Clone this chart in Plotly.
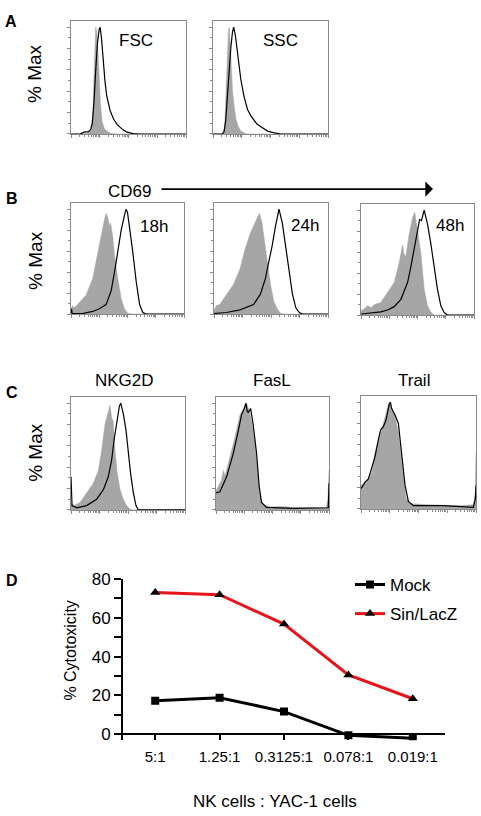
import math
import plotly.graph_objects as go

W, H = 481, 816
FONT = "Liberation Sans, Arial, sans-serif"
GRAY_FILL = "#a6a6a6"
FRAME = "#8a8a8a"

# ---------------- Histogram data (x = % of channel range, y = % Max) ----------------
FSC_ISO_X = [0, 10, 15, 17, 18, 19, 20, 21, 21.5, 22.5, 23.5, 24.5, 25.5, 27, 29, 32, 35, 40, 100]
FSC_ISO_Y = [0, 0, 1, 3, 6, 20, 55, 92, 100, 96, 80, 55, 30, 12, 5, 2, 0.5, 0, 0]
FSC_SAMPLE_X = [0, 8, 10, 12, 15, 17, 18.5, 20, 21.5, 23, 24.5, 25.3, 26.5, 28, 29.5, 31, 34, 37, 40, 44, 48, 54, 60, 100]
FSC_SAMPLE_Y = [0, 0, 1, 2, 2, 4, 10, 30, 60, 85, 98, 100, 90, 68, 50, 36, 22, 14, 9, 5, 2, 0.3, 0, 0]

SSC_ISO_X = [0, 8, 9.5, 10.5, 11.5, 12.5, 13.5, 14.2, 15, 16, 17, 18.5, 20, 22, 24, 27, 30, 100]
SSC_ISO_Y = [0, 0, 3, 15, 45, 80, 98, 100, 85, 60, 40, 25, 14, 7, 3, 1, 0, 0]
SSC_SAMPLE_X = [0, 8, 9.6, 11, 12.5, 14, 15.5, 17, 18, 19.5, 21.3, 22.8, 24.2, 27, 30, 33, 35.9, 38, 41.7, 47.5, 53.4, 59, 100]
SSC_SAMPLE_Y = [0, 0, 2, 12, 35, 60, 81, 96, 100, 92, 75, 62, 51, 35, 23, 17, 12.7, 9.5, 6.7, 2.7, 1, 0, 0]

H18_ISO_X = [0, 1, 3, 7.4, 13.3, 19.2, 23.7, 26.6, 29.6, 31, 32.5, 34, 35, 37, 38.5, 41.4, 44.4, 47.3, 50.3, 55, 100]
H18_ISO_Y = [3, 8, 6, 11, 18, 34, 59, 77, 90, 96, 92, 84, 87, 74, 56, 34, 15, 5, 0.5, 0, 0]
H18_SAMPLE_X = [0, 0.5, 1, 10, 19.2, 25.1, 31, 35.5, 38.5, 41.4, 44.4, 47.3, 48.8, 50, 51.8, 54.7, 57.7, 60.7, 63.6, 66.6, 100]
H18_SAMPLE_Y = [1, 5, 0.5, 0.5, 2.5, 5, 9, 22, 40, 62, 80, 94, 100, 97, 84, 59, 31, 9, 1.5, 0, 0]

H24_ISO_X = [0, 2, 5, 11, 16.9, 22.8, 27.3, 31.8, 36.2, 38, 39.8, 42.1, 44.2, 46.6, 49.6, 52.5, 55.5, 58.5, 62, 100]
H24_ISO_Y = [4, 8, 9, 19, 28, 43, 62, 77, 87, 92, 96, 87, 71, 50, 28, 12, 5, 0.5, 0, 0]
H24_SAMPLE_X = [0, 11, 22.8, 34.7, 40.7, 45.1, 48.1, 51, 54, 57, 59.9, 62.9, 65.9, 68.8, 71.8, 74.8, 77.7, 100]
H24_SAMPLE_Y = [0.5, 1.5, 4, 9, 19, 34, 50, 65, 84, 100, 87, 65, 40, 19, 6, 1.5, 0, 0]

H48_ISO_X = [0, 3, 6, 8.8, 12, 17.6, 20, 23.5, 29.4, 33.8, 36.8, 38, 39.7, 42.6, 45.6, 47.6, 50, 53, 55.9, 58.8, 61.8, 64.7, 100]
H48_ISO_Y = [4, 6, 9, 7, 10, 12, 16, 22, 31, 50, 67, 58, 56, 77, 93, 98, 80, 59, 25, 9, 3, 0, 0]
H48_SAMPLE_X = [0, 10, 17.6, 24, 29.4, 35.3, 41.2, 44.1, 47.1, 50, 51.8, 53.5, 55.9, 58.8, 61.8, 64.7, 67.6, 70.6, 73.5, 76.5, 100]
H48_SAMPLE_Y = [1, 2, 3, 5, 8, 15, 31, 46, 62, 80, 91, 90, 100, 87, 68, 46, 25, 9, 2.5, 0, 0]

NKG2D_ISO_X = [0, 3, 7.9, 13.7, 19.6, 24, 26.9, 29.8, 32.7, 34.2, 35.7, 37.1, 38.6, 40.6, 43, 45.9, 48.8, 51.8, 55, 100]
NKG2D_ISO_Y = [6, 4, 7, 16, 25, 37, 56, 80, 92, 98, 86, 83, 56, 34, 19, 10, 4, 0.5, 0, 0]
NKG2D_SAMPLE_X = [0, 0.9, 5, 13.7, 22.5, 28.4, 32.7, 35.7, 37.7, 40.1, 42.4, 43.6, 45.9, 48.2, 50.3, 52.3, 54.7, 57, 59, 100]
NKG2D_SAMPLE_Y = [31, 4, 2, 4, 10, 19, 31, 47, 65, 83, 97, 100, 90, 75, 53, 34, 16, 4, 0, 0]

FASL_ISO_X = [0, 3, 5, 6.5, 8, 12.4, 16.8, 21.2, 24.1, 27, 29.4, 31.5, 34.4, 37.4, 38.8, 41.8, 47.6, 62.4, 68.2, 80, 97.6, 99, 100]
FASL_ISO_Y = [18, 24, 28, 37, 32, 50, 68, 89, 95, 100, 93, 83, 65, 34, 13, 5, 3, 3, 2, 2, 2, 10, 37]
FASL_SAMPLE_X = [0, 3.5, 9.4, 15.3, 19.7, 22.6, 25, 26.5, 27.5, 28.5, 30.6, 32.9, 35.9, 38.2, 40.3, 44.7, 68.2, 85, 99.4, 100]
FASL_SAMPLE_Y = [16, 17, 31, 53, 74, 89, 95, 100, 93, 91, 95, 80, 53, 22, 7, 2.4, 1.5, 1.5, 2, 25]

TRAIL_ISO_X = [0, 4.9, 9.3, 12.2, 15.1, 18, 20.9, 23.8, 25.2, 26.7, 29.6, 32.5, 34.5, 36.8, 39.1, 42.6, 57.1, 86.1, 97.7, 99.3, 100]
TRAIL_ISO_Y = [22, 25, 34, 53, 65, 74, 86, 98, 100, 93, 87, 71, 53, 28, 10, 5, 4, 3, 4, 15, 53]
TRAIL_SAMPLE_X = [0, 3.5, 6.4, 9.3, 12.2, 15.1, 17.1, 19.4, 21.7, 24.6, 25.5, 26.7, 29.6, 32.5, 33.9, 36.2, 38.3, 41.2, 45.5, 71.6, 97.7, 99.5, 100]
TRAIL_SAMPLE_Y = [19, 25, 28, 39, 49, 65, 74, 77, 83, 98, 100, 94, 88, 80, 65, 44, 22, 7, 3, 3, 1.5, 10, 22]

# ---------------- Cytotoxicity data ----------------
RATIOS = ["5:1", "1.25:1", "0.3125:1", "0.078:1", "0.019:1"]
MOCK = [17.3, 18.8, 11.7, -0.5, -2.0]
SIN_LACZ = [73.0, 71.8, 56.7, 30.5, 18.3]
Y_TICKS = [0, 10, 20, 30, 40, 50, 60, 70, 80]
Y_TICK_TEXT = ["0", "", "20", "", "40", "", "60", "", "80"]


def dom_x(left, right):
    return [left / W, right / W]


def dom_y(top, bottom):
    return [1 - bottom / H, 1 - top / H]


HISTS = [
    # (iso_x, iso_y, sample_x, sample_y, left, right, top, bottom)
    (FSC_ISO_X, FSC_ISO_Y, FSC_SAMPLE_X, FSC_SAMPLE_Y, 71, 186, 12, 127),
    (SSC_ISO_X, SSC_ISO_Y, SSC_SAMPLE_X, SSC_SAMPLE_Y, 213, 328, 12, 127),
    (H18_ISO_X, H18_ISO_Y, H18_SAMPLE_X, H18_SAMPLE_Y, 71, 184, 197, 310),
    (H24_ISO_X, H24_ISO_Y, H24_SAMPLE_X, H24_SAMPLE_Y, 214, 328, 197, 310),
    (H48_ISO_X, H48_ISO_Y, H48_SAMPLE_X, H48_SAMPLE_Y, 361, 474, 198, 311),
    (NKG2D_ISO_X, NKG2D_ISO_Y, NKG2D_SAMPLE_X, NKG2D_SAMPLE_Y, 71, 185, 394, 509),
    (FASL_ISO_X, FASL_ISO_Y, FASL_SAMPLE_X, FASL_SAMPLE_Y, 216, 329, 394, 509),
    (TRAIL_ISO_X, TRAIL_ISO_Y, TRAIL_SAMPLE_X, TRAIL_SAMPLE_Y, 361, 476, 393, 508),
]

fig = go.Figure()
layout = {}

x_major = [25 * d for d in range(5)]
x_minor = [25 * (d + math.log10(k)) for d in range(4) for k in range(2, 10)]

for i, (ix, iy, sx, sy, l, r, t, b) in enumerate(HISTS, start=1):
    xa = "x" if i == 1 else f"x{i}"
    ya = "y" if i == 1 else f"y{i}"
    fig.add_trace(go.Scatter(x=ix, y=iy, xaxis=xa, yaxis=ya, mode="lines",
                             fill="tozeroy", fillcolor=GRAY_FILL,
                             line=dict(color=GRAY_FILL, width=0.5), showlegend=False,
                             hoverinfo="skip"))
    fig.add_trace(go.Scatter(x=sx, y=sy, xaxis=xa, yaxis=ya, mode="lines",
                             line=dict(color="black", width=1.2), showlegend=False,
                             hoverinfo="skip"))
    layout["xaxis" if i == 1 else f"xaxis{i}"] = dict(
        domain=dom_x(l, r), range=[0, 100], anchor=ya, showgrid=False, zeroline=False,
        showline=True, mirror=True, linecolor=FRAME, linewidth=1,
        tickmode="array", tickvals=x_major, ticks="outside", ticklen=3, tickcolor=FRAME,
        showticklabels=False,
        minor=dict(tickvals=x_minor, ticks="outside", ticklen=2, tickcolor=FRAME, showgrid=False),
    )
    layout["yaxis" if i == 1 else f"yaxis{i}"] = dict(
        domain=dom_y(t, b), range=[0, 106], anchor=xa, showgrid=False, zeroline=False,
        showline=True, mirror=True, linecolor=FRAME, linewidth=1,
        tickmode="array", tickvals=[0, 20, 40, 60, 80, 100], ticks="outside", ticklen=3,
        tickcolor=FRAME, showticklabels=False,
        minor=dict(tickvals=[10, 30, 50, 70, 90], ticks="outside", ticklen=2, tickcolor=FRAME,
                   showgrid=False),
    )

# ---------------- Panel D ----------------
fig.add_trace(go.Scatter(x=RATIOS, y=MOCK, xaxis="x9", yaxis="y9", mode="lines+markers",
                         name="Mock", line=dict(color="black", width=3),
                         marker=dict(symbol="square", size=8, color="black"),
                         legendgroup="a"))
fig.add_trace(go.Scatter(x=RATIOS, y=SIN_LACZ, xaxis="x9", yaxis="y9", mode="lines+markers",
                         name="Sin/LacZ", line=dict(color="#e8141b", width=3),
                         marker=dict(symbol="triangle-up", size=9, color="black"),
                         legendgroup="b"))

layout["xaxis9"] = dict(
    domain=dom_x(123, 445), range=[-0.5, 4.5], anchor="y9", type="category",
    showgrid=False, zeroline=False, showline=False,
    ticks="inside", ticklen=6, tickwidth=2, tickcolor="black",
    ticklabelstandoff=6,
    tickfont=dict(family=FONT, size=15, color="black"),
)
layout["yaxis9"] = dict(
    domain=dom_y(579, 743), range=[-3, 80], anchor="x9",
    showgrid=False, showline=True, linecolor="black", linewidth=2,
    zeroline=True, zerolinecolor="black", zerolinewidth=2,
    tickmode="array", tickvals=Y_TICKS, ticktext=Y_TICK_TEXT,
    ticks="outside", ticklen=7, tickwidth=2, tickcolor="black",
    tickfont=dict(family=FONT, size=17, color="black"),
)

def ann(text, x, y, size=17, angle=0, bold=False, xanchor="center"):
    return dict(text=f"<b>{text}</b>" if bold else text, x=x / W, y=1 - y / H,
                xref="paper", yref="paper", showarrow=False, textangle=angle,
                xanchor=xanchor, yanchor="middle",
                font=dict(family=FONT, size=size, color="black"))

annotations = [
    ann("A", 3, 13, 16, bold=True, xanchor="left"),
    ann("B", 4, 193, 16, bold=True, xanchor="left"),
    ann("C", 4, 390, 16, bold=True, xanchor="left"),
    ann("D", 4, 581, 16, bold=True, xanchor="left"),
    ann("% Max", 35, 66, 19, angle=-90),
    ann("% Max", 36, 256, 19, angle=-90),
    ann("% Max", 36, 451, 19, angle=-90),
    ann("FSC", 136, 32),
    ann("SSC", 280, 32),
    ann("CD69", 129, 185),
    ann("18h", 154, 221),
    ann("24h", 305, 220),
    ann("48h", 450, 220),
    ann("NKG2D", 124, 378),
    ann("FasL", 272, 378),
    ann("Trail", 414, 378),
    ann("% Cytotoxicity", 71, 652, 16, angle=-90),
    ann("NK cells : YAC-1 cells", 275, 805, 17),
    dict(text="", x=433 / W, y=1 - 183 / H, xref="paper", yref="paper",
         showarrow=True, ax=-273, ay=0, axref="pixel", ayref="pixel",
         arrowhead=1, arrowsize=1.6, arrowwidth=1.6, arrowcolor="black"),
]

fig.update_layout(
    width=W, height=H, margin=dict(l=0, r=0, t=0, b=0),
    paper_bgcolor="white", plot_bgcolor="white",
    font=dict(family=FONT, color="black"),
    annotations=annotations,
    showlegend=True,
    legend=dict(x=350 / W, y=1 - 567 / H, xanchor="left", yanchor="top",
                bgcolor="rgba(0,0,0,0)", font=dict(family=FONT, size=17, color="black"),
                tracegroupgap=4, itemwidth=30),
    **layout,
)

fig.write_html("out.html", config={"displayModeBar": False},
               post_script="document.body.style.margin='0';document.body.style.overflow='hidden';")
